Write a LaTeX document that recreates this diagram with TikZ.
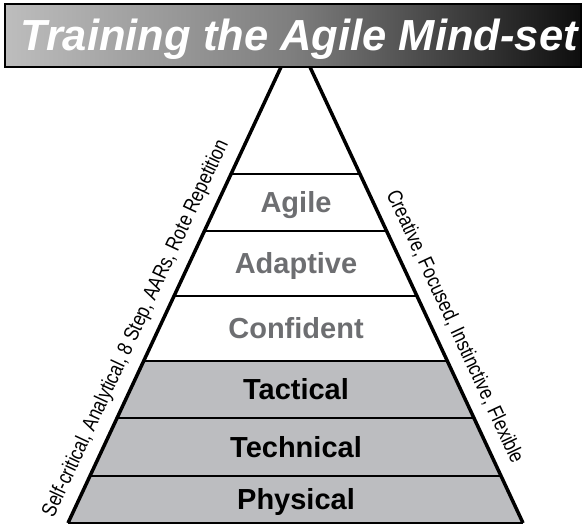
\documentclass[tikz,border=0pt]{standalone}
\usepackage{fontspec}
\setmainfont{Liberation Sans}
\newfontfamily\narrowfont[FakeStretch=0.83]{Liberation Sans}
\usetikzlibrary{calc}
\definecolor{bandgray}{HTML}{BCBDC0}
\definecolor{labgray}{HTML}{6D6E71}
\definecolor{titlelight}{HTML}{BDBDBD}
\definecolor{titlemid}{HTML}{7E7E7E}
\definecolor{titledark}{HTML}{0E0E0E}
\begin{document}
\begin{tikzpicture}[x=1pt,y=-1pt,
  pyredge/.style={line width=3.5pt},
  divider/.style={line width=2pt},
  upperlab/.style={font=\fontsize{29}{29}\selectfont\bfseries, text=labgray, anchor=base, inner sep=0pt},
  lowerlab/.style={font=\fontsize{29}{29}\selectfont\bfseries, text=black, anchor=base, inner sep=0pt},
  sidelab/.style={font=\narrowfont\fontsize{21}{21}\selectfont, anchor=base, inner sep=0pt},
  titlebox/.style={draw=black, line width=2pt, left color=titlelight, right color=titledark, middle color=titlemid}
]
\useasboundingbox (0,0) rectangle (585,524);
% pyramid corners
\coordinate (apex) at (295.5,36);
\coordinate (bl) at (68,523);
\coordinate (br) at (523,523);
% band boundaries
\foreach \n/\t in {a/0.2834,b/0.4004,c/0.5339,d/0.6674,e/0.7844,f/0.9035}{
  \coordinate (L\n) at ($(apex)!\t!(bl)$);
  \coordinate (R\n) at ($(apex)!\t!(br)$);
}
% gray lower part
\fill[bandgray] (Ld) -- (Rd) -- (br) -- (bl) -- cycle;
% dividers
\foreach \n in {a,b,c,d,e,f}{
  \draw[divider] (L\n) -- (R\n);
}
\draw[divider] (bl) -- (br);
% edges
\draw[pyredge] (bl) -- (apex) -- (br);
% band labels
\node[upperlab] (agile) at (296,212.5) {Agile};
\node[upperlab] (adaptive) at (296,273.5) {Adaptive};
\node[upperlab] (confident) at (296,338.5) {Confident};
\node[lowerlab] (tactical) at (296,399.5) {Tactical};
\node[lowerlab] (technical) at (296,457) {Technical};
\node[lowerlab] (physical) at (296,509.5) {Physical};
% side labels
\node[sidelab, rotate=65] (leftlab) at (141.1,331) {Self-critical, Analytical, 8 Step, AARs, Rote Repetition};
\node[sidelab, rotate=-65] (rightlab) at (449.2,329.5) {Creative, Focused, Instinctive, Flexible};
% title
\node[titlebox, minimum width=576pt, minimum height=63pt, inner sep=0pt] (titlebg) at (293,35.5) {};
\node[font=\fontsize{43.5}{43.5}\selectfont\bfseries\itshape, text=white, anchor=base, inner sep=0pt] (title) at (299,50.5) {Training the Agile Mind-set};
\end{tikzpicture}
\end{document}
